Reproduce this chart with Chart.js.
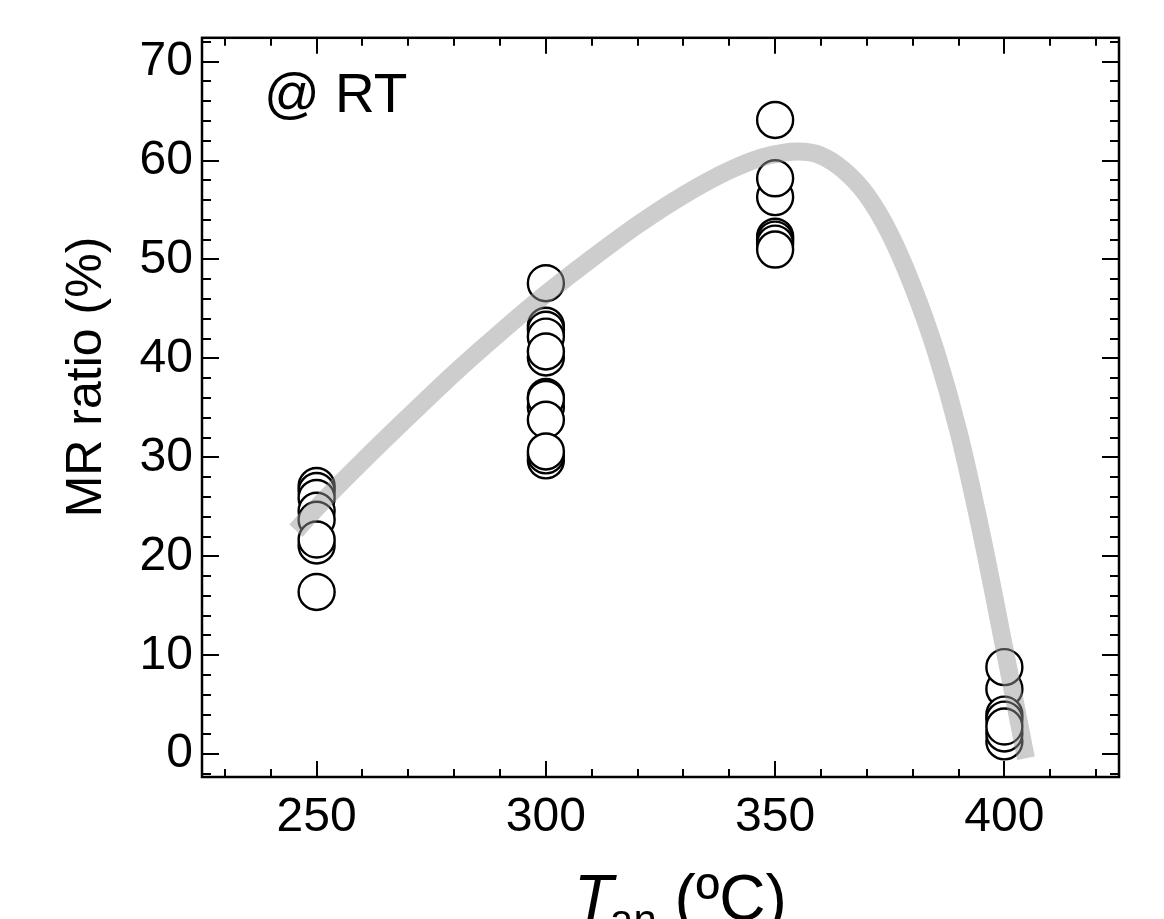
<!DOCTYPE html>
<html>
<head>
<meta charset="utf-8">
<script src="https://cdn.jsdelivr.net/npm/chart.js@4/dist/chart.umd.min.js"></script>
<style>
  html, body { margin: 0; padding: 0; background: #fff; }
  canvas { display: block; }
</style>
</head>
<body>
<canvas id="chart" width="1164" height="919"></canvas>
<script>
// Annealing temperatures (°C) and the MR ratios (%) measured at room temperature
const annealTemps = [250, 300, 350, 400];
const mr250 = [27.1, 26.6, 25.9, 24.6, 23.7, 21.1, 21.7, 16.4];
const mr300 = [47.6, 43.3, 42.9, 42.2, 40.1, 40.7, 36.1, 35.1, 35.9, 33.8, 29.7, 30.2, 30.6];
const mr350 = [64.1, 56.3, 58.2, 52.3, 52.0, 51.6, 51.0];
const mr400 = [6.6, 4.0, 3.5, 1.3, 2.1, 2.8, 8.8];

// Guide-to-the-eye trend curve
const trendTemps = [245.5, 250, 260, 270, 280, 290, 300, 310, 320, 330, 340, 347, 352, 355, 360, 365, 370, 375, 380, 385, 390, 395, 400, 404.7];
const trendMR    = [22.6, 24.9, 29.6, 34.1, 38.5, 42.6, 46.5, 50.1, 53.5, 56.5, 59.0, 60.3, 60.8, 60.9, 60.5, 59.0, 56.5, 52.6, 47.3, 40.8, 32.6, 22.3, 10.7, -0.4];

// Axis tick labels
const xTickValues = [250, 300, 350, 400];
const yTickValues = [0, 10, 20, 30, 40, 50, 60, 70];

const FONT = "'Liberation Sans', Arial, Helvetica, sans-serif";

const mrGroups = [mr250, mr300, mr350, mr400];
const scatterPoints = [];
mrGroups.forEach((vals, i) => vals.forEach(v => scatterPoints.push({ x: annealTemps[i], y: v })));
const trendPoints = trendTemps.map((t, i) => ({ x: t, y: trendMR[i] }));

// Closed frame with inward major/minor ticks on all four sides, plus text annotations
const framePlugin = {
  id: 'framePlugin',
  afterDraw(chart) {
    const { ctx, chartArea: a, scales: { x, y } } = chart;
    ctx.save();
    ctx.strokeStyle = '#000';
    ctx.lineCap = 'butt';
    const seg = (x1, y1, x2, y2) => { ctx.beginPath(); ctx.moveTo(x1, y1); ctx.lineTo(x2, y2); ctx.stroke(); };
    ctx.lineWidth = 2.5;
    ctx.strokeRect(a.left, a.top, a.right - a.left, a.bottom - a.top);
    ctx.lineWidth = 2;
    for (let v = 230; v <= 420; v += 10) {
      const px = Math.round(x.getPixelForValue(v));
      const len = xTickValues.includes(v) ? 16 : 8;
      seg(px, a.bottom, px, a.bottom - len);
      seg(px, a.top, px, a.top + len);
    }
    for (let v = -2; v <= 72; v += 2) {
      const py = Math.round(y.getPixelForValue(v));
      const len = yTickValues.includes(v) ? 17 : 9;
      seg(a.left, py, a.left + len, py);
      seg(a.right, py, a.right - len, py);
    }

    ctx.fillStyle = '#000';
    // in-panel label
    ctx.font = `55px ${FONT}`;
    ctx.textAlign = 'left';
    ctx.textBaseline = 'alphabetic';
    ctx.fillText('@ RT', 264, 112);

    // y-axis title
    ctx.save();
    ctx.translate(101, 377);
    ctx.rotate(-Math.PI / 2);
    ctx.font = `50px ${FONT}`;
    ctx.textAlign = 'center';
    ctx.fillText('MR ratio (%)', 0, 0);
    ctx.restore();

    // x-axis title: T_an (ºC)
    const base = 920;
    let cx = 574;
    ctx.textAlign = 'left';
    ctx.font = `italic 64px ${FONT}`;
    ctx.fillText('T', cx, base);
    cx += ctx.measureText('T').width - 3;
    ctx.font = `42px ${FONT}`;
    ctx.fillText('an', cx, base + 14);
    cx += ctx.measureText('an').width;
    ctx.font = `64px ${FONT}`;
    ctx.fillText(' (ºC)', cx, base);
    ctx.restore();
  }
};

new Chart(document.getElementById('chart'), {
  type: 'scatter',
  data: {
    datasets: [
      {
        label: 'trend',
        data: trendPoints,
        showLine: true,
        borderColor: 'rgba(150,150,150,0.48)',
        borderWidth: 18,
        borderCapStyle: 'butt',
        borderJoinStyle: 'round',
        cubicInterpolationMode: 'monotone',
        pointRadius: 0,
        pointHoverRadius: 0,
        order: 0
      },
      {
        label: 'MR ratio',
        data: scatterPoints,
        pointStyle: 'circle',
        pointRadius: 18,
        pointHoverRadius: 18,
        pointBackgroundColor: '#fff',
        pointBorderColor: '#000',
        pointBorderWidth: 2.4,
        showLine: false,
        order: 1
      }
    ]
  },
  options: {
    responsive: false,
    animation: false,
    events: [],
    layout: { padding: { top: 35, right: 45, left: 0, bottom: 0 } },
    plugins: { legend: { display: false }, tooltip: { enabled: false }, title: { display: false } },
    scales: {
      x: {
        type: 'linear',
        min: 225,
        max: 425,
        grid: { display: false, drawTicks: false },
        border: { display: false },
        afterBuildTicks: s => { s.ticks = xTickValues.map(v => ({ value: v })); },
        afterFit: s => { s.height = 142; },
        ticks: { color: '#000', font: { family: FONT, size: 48 }, padding: 12, maxRotation: 0, callback: v => String(v) }
      },
      y: {
        type: 'linear',
        min: -2.3,
        max: 72.4,
        grid: { display: false, drawTicks: false },
        border: { display: false },
        afterBuildTicks: s => { s.ticks = yTickValues.map(v => ({ value: v })); },
        afterFit: s => { s.width = 202; },
        ticks: { color: '#000', font: { family: FONT, size: 48 }, padding: 9, callback: v => String(v) }
      }
    }
  },
  plugins: [framePlugin]
});
</script>
</body>
</html>
